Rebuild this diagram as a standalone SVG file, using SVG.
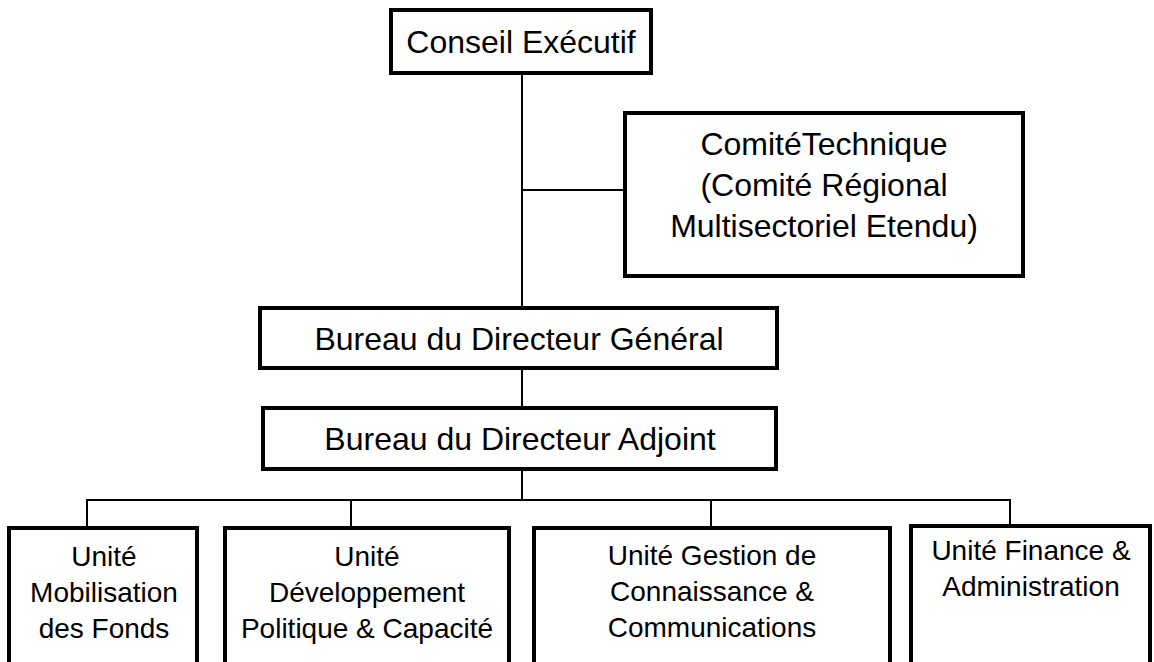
<svg xmlns="http://www.w3.org/2000/svg" width="1154" height="662" viewBox="0 0 1154 662">
  <style>
    .box { fill: #ffffff; stroke: #000000; stroke-width: 4; }
    .link { fill: none; stroke: #000000; stroke-width: 2; }
    .lbl { font-family: "Liberation Sans", Arial, sans-serif; font-size: 32px; fill: #000000; text-anchor: middle; }
    .unit { font-family: "Liberation Sans", Arial, sans-serif; font-size: 28px; fill: #000000; text-anchor: middle; }
  </style>
  <rect width="1154" height="662" fill="#ffffff"/>

  <!-- connectors -->
  <g id="connectors">
    <line class="link" x1="522" y1="73" x2="522" y2="308"/>
    <line class="link" x1="522" y1="190" x2="625" y2="190"/>
    <line class="link" x1="522" y1="368" x2="522" y2="408"/>
    <line class="link" x1="522" y1="469" x2="522" y2="500"/>
    <polyline class="link" points="87,528 87,500 1010,500 1010,526"/>
    <line class="link" x1="351" y1="500" x2="351" y2="528"/>
    <line class="link" x1="711" y1="500" x2="711" y2="528"/>
  </g>

  <g id="conseil-executif">
    <rect class="box" x="391" y="10" width="260" height="63"/>
    <text class="lbl" x="521" y="53">Conseil Exécutif</text>
  </g>

  <g id="comite-technique">
    <rect class="box" x="625" y="113" width="398" height="163"/>
    <text class="lbl" x="824" y="155">ComitéTechnique</text>
    <text class="lbl" x="824" y="196">(Comité Régional</text>
    <text class="lbl" x="824" y="237">Multisectoriel Etendu)</text>
  </g>

  <g id="directeur-general">
    <rect class="box" x="260" y="308" width="517" height="60"/>
    <text class="lbl" x="519" y="350">Bureau du Directeur Général</text>
  </g>

  <g id="directeur-adjoint">
    <rect class="box" x="263" y="408" width="513" height="61"/>
    <text class="lbl" x="520" y="450">Bureau du Directeur Adjoint</text>
  </g>

  <g id="unite-mobilisation">
    <rect class="box" x="9" y="528" width="188" height="145"/>
    <text class="unit" x="104" y="566">Unité</text>
    <text class="unit" x="104" y="602">Mobilisation</text>
    <text class="unit" x="104" y="638">des Fonds</text>
  </g>

  <g id="unite-developpement">
    <rect class="box" x="225" y="528" width="284" height="145"/>
    <text class="unit" x="367" y="566">Unité</text>
    <text class="unit" x="367" y="602">Développement</text>
    <text class="unit" x="367" y="638">Politique &amp; Capacité</text>
  </g>

  <g id="unite-connaissance">
    <rect class="box" x="534" y="528" width="356" height="145"/>
    <text class="unit" x="712" y="565">Unité Gestion de</text>
    <text class="unit" x="712" y="601">Connaissance &amp;</text>
    <text class="unit" x="712" y="637">Communications</text>
  </g>

  <g id="unite-finance">
    <rect class="box" x="911" y="526" width="239" height="147"/>
    <text class="unit" x="1031" y="560">Unité Finance &amp;</text>
    <text class="unit" x="1031" y="596">Administration</text>
  </g>
</svg>
